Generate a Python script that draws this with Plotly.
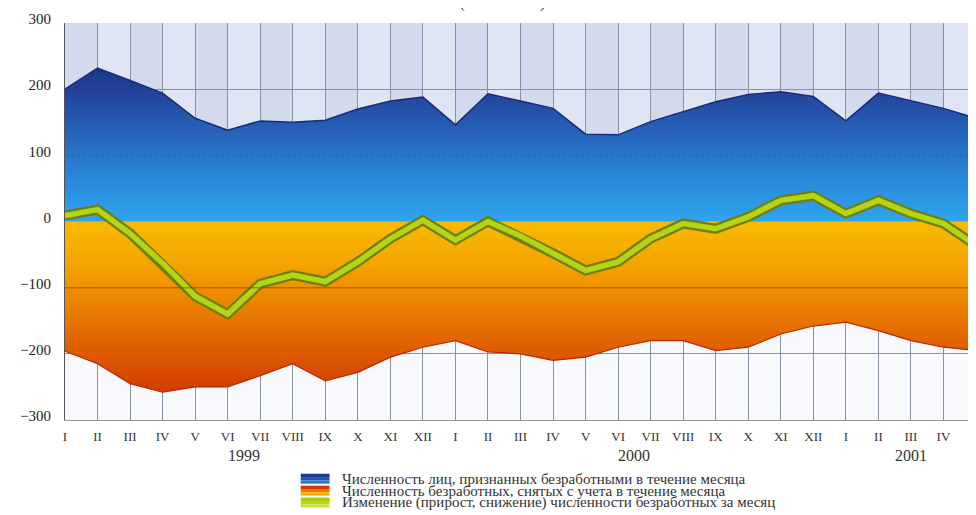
import plotly.graph_objects as go

# ---- data ----
months = ["I", "II", "III", "IV", "V", "VI", "VII", "VIII", "IX", "X", "XI", "XII",
          "I", "II", "III", "IV", "V", "VI", "VII", "VIII", "IX", "X", "XI", "XII",
          "I", "II", "III", "IV", "V"]
years = ["1999", "2000", "2001"]
year_centers = [5.5, 17.5, 26]
registered = [200, 232, 213, 194, 156, 138, 152, 150, 153, 170, 182, 188, 146, 193, 182,
              171, 132, 131, 151, 166, 181, 192, 196, 189, 152, 194, 182, 171, 156]
removed = [-196, -215, -245, -258, -250, -250, -233, -215, -241, -228, -205, -190, -180, -197,
           -200, -210, -205, -190, -180, -180, -195, -190, -170, -158, -152, -165, -180, -190, -195]
change = [9, 18, -18, -63, -113, -140, -94, -81, -91, -61, -26, 2, -28, 0, -22, -48, -74,
          -61, -26, -3, -11, 7, 32, 39, 12, 32, 12, -3, -36]
legend_labels = [
    "Численность лиц, признанных безработными в течение месяца",
    "Численность безработных, снятых с учета в течение месяца",
    "Изменение (прирост, снижение) численности безработных за месяц",
]
title_text = "(тыс. человек)"
yticks = [-300, -200, -100, 0, 100, 200, 300]

x = list(range(len(months)))
W, H = 976, 515
L, R, T, B = 57, 3, 13, 103
PW, PH = W - L - R, H - T - B


def px(xp):
    return (xp - L) / PW


def py(yp):
    return (H - B - yp) / PH


SERIF = "Liberation Serif"

fig = go.Figure()

fig.add_trace(go.Scatter(
    x=x, y=registered, mode="lines", fill="tozeroy",
    line=dict(color="#1a2c78", width=1.5),
    fillgradient=dict(type="vertical", start=0, stop=235,
                      colorscale=[[0, "#2ea6ee"], [0.3, "#2a86d8"], [0.55, "#2766bd"],
                                  [0.8, "#22489f"], [1, "#1b3385"]]),
    showlegend=False, hoverinfo="skip"))

fig.add_trace(go.Scatter(
    x=x, y=removed, mode="lines", fill="tozeroy",
    line=dict(color="#b82a00", width=1.2),
    fillgradient=dict(type="vertical", start=0, stop=-260,
                      colorscale=[[0, "#f8ba00"], [0.25, "#f4a300"], [0.45, "#ec8600"],
                                  [0.7, "#e06200"], [1, "#d03a00"]]),
    showlegend=False, hoverinfo="skip"))

fig.add_trace(go.Scatter(
    x=x, y=change, mode="lines", line=dict(color="#6f7e12", width=10),
    showlegend=False, hoverinfo="skip"))
fig.add_trace(go.Scatter(
    x=x, y=change, mode="lines", line=dict(color="#b4d414", width=5.5),
    showlegend=False, hoverinfo="skip"))

shapes = []
shapes.append(dict(type="rect", xref="x", yref="y", x0=0, x1=28, y0=0, y1=300,
                   fillcolor="#d3daee", line_width=0, layer="below"))
shapes.append(dict(type="rect", xref="x", yref="y", x0=0, x1=28, y0=-300, y1=0,
                   fillcolor="#f7f9fd", line_width=0, layer="below"))
for i in range(0, 28, 2):
    shapes.append(dict(type="rect", xref="x", yref="y", x0=i + 1, x1=i + 2, y0=0, y1=300,
                       fillcolor="#e0e5f3", line_width=0, layer="below"))
shapes.append(dict(type="line", xref="x", yref="y", x0=0, x1=28, y0=-100, y1=-100,
                   line=dict(color="rgba(150,40,0,0.45)", width=1.5), layer="above"))
shapes.append(dict(type="line", xref="x", yref="y", x0=0, x1=28, y0=100, y1=100,
                   line=dict(color="rgba(20,40,110,0.25)", width=1, dash="dot"), layer="above"))

sw_rows = [471, 483, 495]
sw_colors = [["#1b3a95", "#2456b0", "#2b73cc"],
             ["#d23c00", "#ec7a00", "#f6b000"],
             ["#a8c800", "#bcd620", "#c8e040"]]
for r, cols in zip(sw_rows, sw_colors):
    y0 = r - 5
    for k, c in enumerate(cols):
        shapes.append(dict(type="rect", xref="paper", yref="paper",
                           x0=px(294), x1=px(323), y0=py(y0 + (k + 1) * 10 / 3),
                           y1=py(y0 + k * 10 / 3), fillcolor=c, line_width=0))

annotations = []
for yr, xc in zip(years, year_centers):
    annotations.append(dict(x=xc, xref="x", y=py(448), yref="paper", text=yr, showarrow=False,
                            font=dict(family=SERIF, size=16, color="#333"),
                            xanchor="center", yanchor="middle"))
for r, lab in zip(sw_rows, legend_labels):
    annotations.append(dict(x=px(334), xref="paper", y=py(r), yref="paper", text=lab,
                            showarrow=False, font=dict(family=SERIF, size=15, color="#333"),
                            xanchor="left", yanchor="middle"))
annotations.append(dict(x=px(497), xref="paper", y=py(4), yref="paper", text=title_text,
                        showarrow=False, font=dict(family=SERIF, size=14, color="#333"),
                        xanchor="center", yanchor="bottom"))

fig.update_layout(
    width=W, height=H, margin=dict(l=L, r=R, t=T, b=B, pad=0),
    paper_bgcolor="white", plot_bgcolor="white",
    font=dict(family=SERIF),
    shapes=shapes, annotations=annotations, showlegend=False,
    xaxis=dict(range=[0, 28], tickvals=x, ticktext=months, showgrid=True,
               gridcolor="#8c92a6", gridwidth=1, zeroline=False, showline=True,
               linecolor="#999", mirror=False, ticks="", ticklabelstandoff=4,
               ticklabeloverflow="allow",
               tickfont=dict(family=SERIF, size=13, color="#333")),
    yaxis=dict(range=[-300, 300], tickvals=yticks, showgrid=True, gridcolor="#8c92a6",
               gridwidth=1, zeroline=False, showline=True, linecolor="#555",
               ticks="", ticklabelstandoff=10, ticklabelshift=-4,
               tickfont=dict(family=SERIF, size=15, color="#222")),
)

fig.write_html("out.html")
